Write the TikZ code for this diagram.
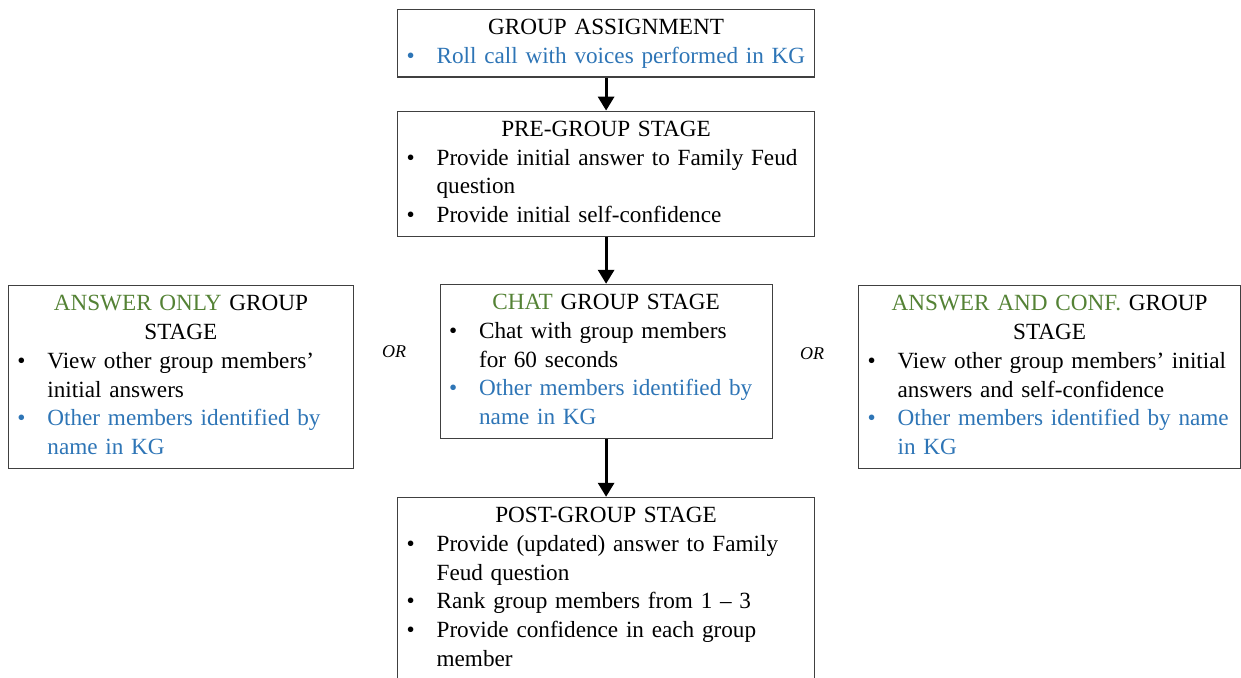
\documentclass[tikz,border=0pt]{standalone}
\usepackage{fontspec}
\setmainfont{Liberation Serif}
\usetikzlibrary{arrows.meta,positioning}

\definecolor{kggreen}{HTML}{548235}
\definecolor{kgblue}{HTML}{2E75B6}

\newcommand{\stagefont}{\fontsize{11.6}{14.4}\selectfont}
\newcommand{\orfont}{\fontsize{9}{11}\selectfont\itshape}
\newcommand{\stagehead}[1]{{\noindent\centering\strut#1\strut\par}}
\newcommand{\stageitem}[2][black]{{\raggedright\noindent\color{#1}\hangindent=15pt\hangafter=1%
  \strut\makebox[15pt][l]{\textbullet}#2\strut\par}}

\tikzset{
  stagebox/.style={draw=black!75, line width=0.6pt, inner xsep=4.5pt, inner ysep=2.45pt, font=\stagefont},
  flow/.style={line width=1.5pt, -{Triangle[width=8pt,length=7pt]}},
  ortext/.style={font=\orfont}
}

\begin{document}
\begin{tikzpicture}[x=0.5pt,y=-0.5pt]
  \useasboundingbox (0,0) rectangle (1241,677);
  \clip (0,0) rectangle (1241,677);

  \node[stagebox, text width=199.5pt, anchor=north west] (assign) at (397,9)
    {\stagehead{GROUP ASSIGNMENT}%
     \stageitem[kgblue]{Roll call with voices performed in KG}};
  \node[stagebox, text width=199.5pt, below=16.5pt of assign] (pre)
    {\stagehead{PRE-GROUP STAGE}%
     \stageitem{\mbox{Provide initial answer to Family Feud}\newline question}%
     \stageitem{Provide initial self-confidence}};
  \node[stagebox, text width=157pt, below=23.5pt of pre] (chat)
    {\stagehead{\textcolor{kggreen}{CHAT} GROUP STAGE}%
     \stageitem{Chat with group members\newline for 60 seconds}%
     \stageitem[kgblue]{Other members identified by\newline name in KG}};
  \node[stagebox, text width=163.5pt, anchor=north east] (answeronly) at (354,285)
    {\stagehead{\textcolor{kggreen}{ANSWER ONLY} GROUP\\STAGE}%
     \stageitem{View other group members’\newline initial answers}%
     \stageitem[kgblue]{Other members identified by\newline name in KG}};
  \node[stagebox, text width=182pt, anchor=north west] (answerconf) at (858,285)
    {\stagehead{\textcolor{kggreen}{ANSWER AND CONF.} GROUP\\STAGE}%
     \stageitem{\mbox{View other group members’ initial}\newline answers and self-confidence}%
     \stageitem[kgblue]{\mbox{Other members identified by name}\newline in KG}};
  \node[stagebox, text width=199.5pt, below=29pt of chat] (post)
    {\stagehead{POST-GROUP STAGE}%
     \stageitem{\mbox{Provide (updated) answer to Family}\newline Feud question}%
     \stageitem{Rank group members from 1 -- 3}%
     \stageitem{\mbox{Provide confidence in each group}\newline member}};

  \node[ortext] (orleft) at (394,352) {OR};
  \node[ortext] (orright) at (812,354) {OR};

  \draw[flow] (assign.south) -- (pre.north);
  \draw[flow] (pre.south) -- (chat.north);
  \draw[flow] (chat.south) -- (post.north);
\end{tikzpicture}
\end{document}
